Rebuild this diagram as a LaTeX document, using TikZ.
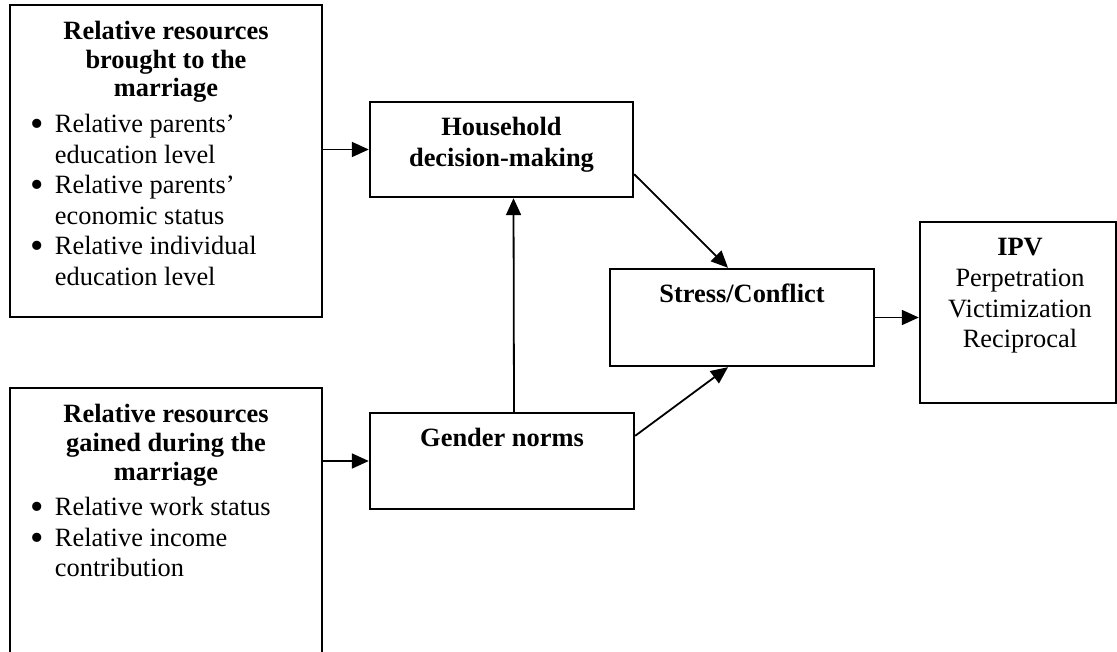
\documentclass[tikz,border=0pt]{standalone}
\usepackage{fontspec}
\setmainfont{Liberation Serif}
\usetikzlibrary{positioning, calc, arrows.meta}
\newcommand{\bul}[1]{\par\noindent\hangindent=12.5pt\hangafter=1%
    \makebox[12.5pt][l]{\raisebox{-2pt}{\scalebox{1.45}{\textbullet}}}#1}
\newcommand{\headlines}[1]{{\centering\bfseries
    \fontsize{13.2}{14.3}\selectfont #1\par}}
\tikzset{
    framebox/.style={draw, line width=1.2pt, inner sep=0pt},
    boxtext/.style={inner sep=0pt, anchor=base,
        font=\fontsize{13.2}{15.3}\selectfont},
    link/.style={-{Triangle[length=8.5pt, width=7.5pt]}, line width=0.9pt},
}

\begin{document}
\begin{tikzpicture}[x=0.5pt, y=-0.5pt]
        \useasboundingbox (0, 0) rectangle (1117, 652);
        \node[framebox, minimum width=156pt, minimum height=156pt] (brought) at (166, 161) {};
        \node[framebox, minimum width=156pt, minimum height=136pt] (gained) at (166, 524) {};
        \node[framebox, minimum width=131.5pt, minimum height=47.5pt] (household) at (501.5, 149.5) {};
        \node[framebox, minimum width=132pt, minimum height=48pt] (gender) at (502, 461) {};
        \node[framebox, minimum width=132pt, minimum height=48.5pt] (stress) at (742, 317.5) {};
        \node[framebox, minimum width=98pt, minimum height=90.5pt] (ipv) at (1018, 312.5) {};
        \node[below=18pt of brought.north, boxtext] (broughttext) {\parbox[t]{136pt}{\raggedright
            \headlines{Relative resources\\ brought to the\\ marriage}\vspace{2.5pt}
            \bul{Relative parents'\newline education level}
            \bul{Relative parents'\newline economic status}
            \bul{Relative individual\newline education level}}};
        \node[below=18pt of gained.north, boxtext] (gainedtext) {\parbox[t]{136pt}{\raggedright
            \headlines{Relative resources\\ gained during the\\ marriage}\vspace{2.5pt}
            \bul{Relative work status}
            \bul{Relative income\newline contribution}}};
        \node[below=17.5pt of household.north, boxtext] (householdtext) {\parbox[t]{130pt}{\centering
            \bfseries Household\\ decision-making}};
        \node[below=17.5pt of gender.north, boxtext] (gendertext) {\bfseries Gender norms};
        \node[below=17.5pt of stress.north, boxtext] (stresstext) {\bfseries Stress/Conflict};
        \node[below=17.5pt of ipv.north, boxtext, xshift=1pt] (ipvtext) {\parbox[t]{96pt}{\centering
            \textbf{IPV}\\ Perpetration\\ Victimization\\ Reciprocal}};
        \draw[link] (brought.east |- household.west) -- (household.west);
        \draw[link] (gained.east |- gender.west) -- (gender.west);
        \draw[link] ([xshift=6pt]gender.north) -- ([xshift=6pt]household.south);
        \draw[link] ([yshift=12pt]household.south east) -- ([xshift=-7pt]stress.north);
        \draw[link] ([yshift=-12pt]gender.north east) -- ([xshift=-7pt]stress.south);
        \draw[link] (stress.east) -- (ipv.west |- stress.east);
    \end{tikzpicture}
\end{document}
